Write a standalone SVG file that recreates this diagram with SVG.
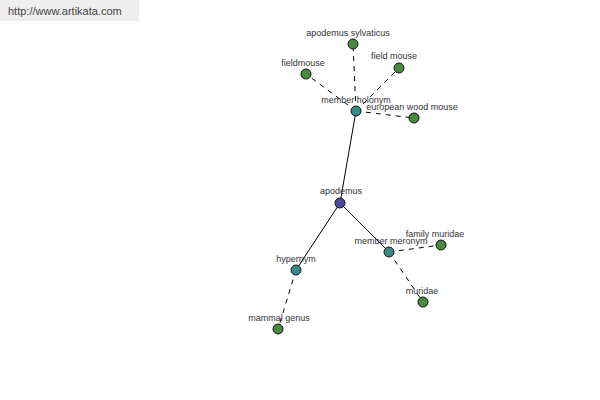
<svg xmlns="http://www.w3.org/2000/svg" width="600" height="400" viewBox="0 0 600 400">
<style>
text{font-family:"Liberation Sans",Arial,sans-serif;font-size:9px;fill:#333;text-anchor:middle}
.n circle{stroke:#111;stroke-width:1}
.leaf{fill:#4a8a3e}
.rel{fill:#3a8a8a}
.root{fill:#4a4a9a}
.e{stroke:#000;stroke-width:1;fill:none}
.d{stroke-dasharray:5,5}
</style>
<rect width="600" height="400" fill="#fff"/>
<rect x="0" y="0" width="139" height="21" fill="#eeeeee"/>
<text x="8" y="15" style="font-size:11px;text-anchor:start;fill:#444">http://www.artikata.com</text>
<g id="connectors">
<line class="e" x1="340" y1="203" x2="356" y2="111"/>
<line class="e" x1="340" y1="203" x2="296" y2="270"/>
<line class="e" x1="340" y1="203" x2="389" y2="252"/>
<line class="e d" x1="356" y1="111" x2="353" y2="44"/>
<line class="e d" x1="356" y1="111" x2="306" y2="74"/>
<line class="e d" x1="356" y1="111" x2="399" y2="68"/>
<line class="e d" x1="356" y1="111" x2="414" y2="118"/>
<line class="e d" x1="296" y1="270" x2="278" y2="329"/>
<line class="e d" x1="389" y1="252" x2="441" y2="245"/>
<line class="e d" x1="389" y1="252" x2="423" y2="302"/>
</g>
<g id="apodemus" class="n"><circle class="root" cx="340" cy="203" r="5"/><text x="341" y="194">apodemus</text></g>
<g id="member-holonym" class="n"><circle class="rel" cx="356" cy="111" r="5"/><text x="356" y="103">member holonym</text></g>
<g id="apodemus-sylvaticus" class="n"><circle class="leaf" cx="353" cy="44" r="5"/><text x="348" y="36">apodemus sylvaticus</text></g>
<g id="fieldmouse" class="n"><circle class="leaf" cx="306" cy="74" r="5"/><text x="303" y="66">fieldmouse</text></g>
<g id="field-mouse" class="n"><circle class="leaf" cx="399" cy="68" r="5"/><text x="394" y="59">field mouse</text></g>
<g id="european-wood-mouse" class="n"><circle class="leaf" cx="414" cy="118" r="5"/><text x="412" y="110">european wood mouse</text></g>
<g id="hypernym" class="n"><circle class="rel" cx="296" cy="270" r="5"/><text x="296" y="262">hypernym</text></g>
<g id="mammal-genus" class="n"><circle class="leaf" cx="278" cy="329" r="5"/><text x="279" y="321">mammal genus</text></g>
<g id="member-meronym" class="n"><circle class="rel" cx="389" cy="252" r="5"/><text x="391" y="244">member meronym</text></g>
<g id="family-muridae" class="n"><circle class="leaf" cx="441" cy="245" r="5"/><text x="435" y="237">family muridae</text></g>
<g id="muridae" class="n"><circle class="leaf" cx="423" cy="302" r="5"/><text x="422" y="294">muridae</text></g>
</svg>
